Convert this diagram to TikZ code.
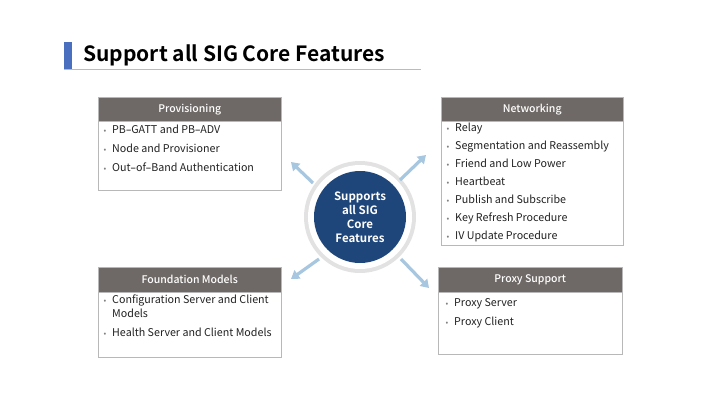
\documentclass[tikz,border=0pt]{standalone}
\usepackage{fontspec}
\setmainfont{Noto Sans CJK KR}[BoldFont={Noto Sans CJK KR Bold}]
\newfontfamily\medfont{Noto Sans CJK KR Medium}
\newfontfamily\dashfont{Noto Sans}
\newcommand{\dsh}{{\dashfont –}}
\usetikzlibrary{arrows.meta}
\definecolor{hdr}{HTML}{6E6966}
\definecolor{bord}{HTML}{B8B8B8}
\definecolor{titleblue}{HTML}{4A6FBF}
\definecolor{lineblue}{HTML}{A9BDE3}
\definecolor{navy}{HTML}{1E467A}
\definecolor{ring}{HTML}{E2E2E2}
\definecolor{arrowblue}{HTML}{A7C6E0}
\definecolor{txt}{HTML}{222222}
\tikzset{
  hdrbox/.style={draw=bord, fill=hdr, text=white, font=\medfont\fontsize{10.5}{12}\selectfont, inner sep=0pt, anchor=north west},
  bodybox/.style={draw=bord, fill=white, inner sep=0pt, anchor=north west},
  item/.style={anchor=base west, inner sep=0pt, text=txt, font=\fontsize{10.7}{12}\selectfont},
  bul/.style={anchor=base, inner sep=0pt, text=gray, font=\fontsize{8}{10}\selectfont},
  arr/.style={draw=arrowblue, line width=3.2pt, -{Triangle[length=8pt,width=10pt]}}
}
\newcommand{\bitem}[4]{% name, x, y, text
  \node[bul] at (#2-7,#3) {•};
  \node[item] (#1) at (#2,#3) {#4};}
\begin{document}
\begin{tikzpicture}[x=1pt,y=-1pt]
\useasboundingbox (0,0) rectangle (720,405);
\fill[white] (0,0) rectangle (720,405);
% title
\fill[titleblue] (64,42) rectangle (72,70);
\draw[lineblue, line width=0.8pt] (64,69.5) -- (421,69.5);
\node[anchor=base west, inner sep=0pt, font=\fontsize{21}{24}\bfseries\selectfont] (title) at (83,61) {Support all SIG Core Features};
% Provisioning
\node[bodybox, minimum width=183pt, minimum height=93pt] (provB) at (98,97) {};
\node[hdrbox, minimum width=183pt, minimum height=24pt] (provH) at (98,97) {Provisioning};
\bitem{p1}{112}{133}{PB\dsh GATT and PB\dsh ADV}
\bitem{p2}{112}{152}{Node and Provisioner}
\bitem{p3}{112}{171}{Out\dsh of\dsh Band Authentication}
% Networking
\node[bodybox, minimum width=182pt, minimum height=148pt] (netB) at (441,97) {};
\node[hdrbox, minimum width=182pt, minimum height=24pt] (netH) at (441,97) {Networking};
\bitem{n1}{455}{131}{Relay}
\bitem{n2}{455}{149}{Segmentation and Reassembly}
\bitem{n3}{455}{167}{Friend and Low Power}
\bitem{n4}{455}{185}{Heartbeat}
\bitem{n5}{455}{203}{Publish and Subscribe}
\bitem{n6}{455}{221}{Key Refresh Procedure}
\bitem{n7}{455}{239}{IV Update Procedure}
% Foundation
\node[bodybox, minimum width=183pt, minimum height=90pt] (fndB) at (98,267) {};
\node[hdrbox, minimum width=183pt, minimum height=25pt] (fndH) at (98,267) {Foundation Models};
\bitem{f1}{112}{303}{Configuration Server and Client}
\node[item] (f1b) at (112,317) {Models};
\bitem{f2}{112}{336}{Health Server and Client Models}
% Proxy
\node[bodybox, minimum width=184pt, minimum height=87pt] (pxB) at (438,267) {};
\node[hdrbox, minimum width=184pt, minimum height=25pt] (pxH) at (438,267) {Proxy Support};
\bitem{x1}{454}{306}{Proxy Server}
\bitem{x2}{454}{325}{Proxy Client}
% circle
\node[circle, fill=ring, minimum size=112pt, inner sep=0pt] (ringc) at (360,217) {};
\node[circle, fill=white, minimum size=104pt, inner sep=0pt] (gap) at (360,217) {};
\node[circle, fill=navy, minimum size=92pt, inner sep=0pt, text=white, align=center,
  font=\fontsize{11.5}{14}\bfseries\selectfont] (core) at (360,217) {Supports\\all SIG\\Core\\Features};
% arrows
\coordinate (nwT) at (313,183); \coordinate (nwH) at (291,162);
\coordinate (neT) at (400,180); \coordinate (neH) at (426,155);
\coordinate (swT) at (319,259); \coordinate (swH) at (291,279);
\coordinate (seT) at (401,259); \coordinate (seH) at (429,288);
\draw[arr] (nwT) -- (nwH);
\draw[arr] (neT) -- (neH);
\draw[arr] (swT) -- (swH);
\draw[arr] (seT) -- (seH);
\end{tikzpicture}
\end{document}
